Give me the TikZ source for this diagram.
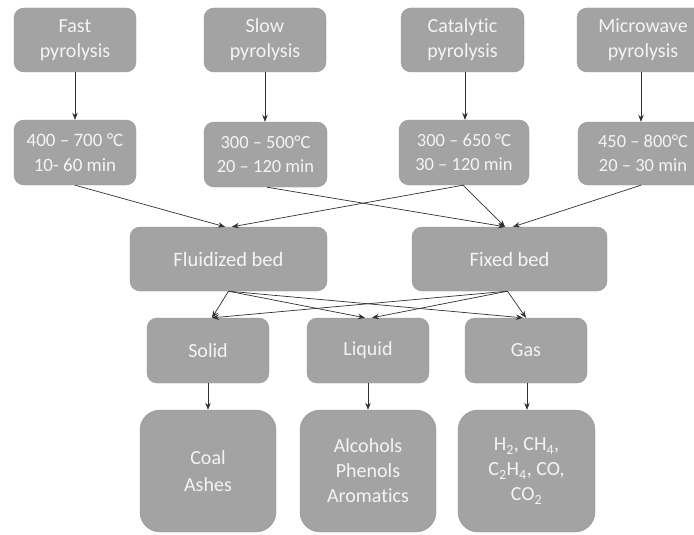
\documentclass[tikz,border=0pt]{standalone}
\usepackage{fontspec}
\setmainfont{Carlito}[Ligatures=NoCommon]
\usetikzlibrary{arrows.meta}
\definecolor{boxgray}{HTML}{A3A3A3}
\definecolor{boxtext}{HTML}{F4F4F4}
\definecolor{linecol}{HTML}{303030}
\tikzset{
  box/.style={fill=boxgray, draw=boxgray!92!black, line width=0.4pt, rounded corners=10pt, inner sep=0pt,
    text=boxtext, align=center, font=\fontsize{20}{25}\selectfont},
  bigbox/.style={box, rounded corners=20pt},
  arr/.style={draw=linecol, line width=0.7pt, -{Stealth[length=7pt,width=5.5pt]}},
}
\begin{document}
\begin{tikzpicture}[x=1pt,y=-1pt]
\useasboundingbox (0,0) rectangle (694,535);
\fill[white] (0,0) rectangle (694,535);
\clip (0,0) rectangle (694,535);
% top row
\node[box, minimum width=122pt, minimum height=64pt] (fast) at (75,40) {Fast\\pyrolysis};
\node[box, minimum width=122pt, minimum height=64pt] (slow) at (265,40) {Slow\\pyrolysis};
\node[box, minimum width=123pt, minimum height=64pt] (cat) at (462.5,40) {Catalytic\\pyrolysis};
\node[box, minimum width=132pt, minimum height=64pt] (micro) at (643,40) {Microwave\\pyrolysis};
% second row
\node[box, minimum width=122pt, minimum height=65pt, font=\fontsize{19}{25}\selectfont] (fastc) at (75,152.5) {400 – 700 °C\\10- 60 min};
\node[box, minimum width=123pt, minimum height=65pt, font=\fontsize{18.5}{24}\selectfont] (slowc) at (265.5,154.5) {300 – 500°C\\20 – 120 min};
\node[box, minimum width=130pt, minimum height=65pt, font=\fontsize{18.5}{24}\selectfont] (catc) at (464,152.5) {300 – 650 °C\\30 – 120 min};
\node[box, minimum width=130pt, minimum height=63pt, font=\fontsize{18.5}{24}\selectfont] (microc) at (643,153.5) {450 – 800°C\\20 – 30 min};
% beds
\node[box, minimum width=197pt, minimum height=64pt, font=\fontsize{20.5}{24}\selectfont] (fluid) at (228.5,259) {Fluidized bed};
\node[box, minimum width=195pt, minimum height=64pt, font=\fontsize{20.5}{24}\selectfont] (fixed) at (509.5,259) {Fixed bed};
% phases
\node[box, minimum width=122pt, minimum height=65pt] (solid) at (208,350.5) {Solid};
\node[box, minimum width=122pt, minimum height=65pt] (liquid) at (368,350.5) {Liquid};
\node[box, minimum width=122pt, minimum height=65pt] (gas) at (526,350.5) {Gas};
% products
\node[bigbox, minimum width=136pt, minimum height=122pt, font=\fontsize{20}{27}\selectfont] (coal) at (208,471) {Coal\\Ashes};
\node[bigbox, minimum width=136pt, minimum height=122pt, font=\fontsize{20}{25}\selectfont] (liqp) at (368,471) {Alcohols\\Phenols\\Aromatics};
\node[bigbox, minimum width=137pt, minimum height=122pt, font=\fontsize{20}{25}\selectfont] (gasp) at (526.5,471) {H\textsubscript{2}, CH\textsubscript{4},\\C\textsubscript{2}H\textsubscript{4}, CO,\\CO\textsubscript{2}};
% arrows top -> conditions
\draw[arr] (fast.south) -- (fastc.north);
\draw[arr] (slow.south) -- (slow.south |- slowc.north);
\draw[arr] ([xshift=2.5pt]cat.south) -- ([xshift=1pt]catc.north);
\draw[arr] ([xshift=-2pt]micro.south) -- ([xshift=-2pt]microc.north);
% conditions -> beds
\draw[arr] (fastc.south) -- ([xshift=-3.5pt]fluid.north);
\draw[arr] ([xshift=-1pt]catc.south) -- ([xshift=3.5pt]fluid.north);
\draw[arr] ([xshift=1.5pt]slowc.south) -- ([xshift=-4.5pt]fixed.north);
\draw[arr] ([xshift=-1pt]catc.south) -- ([xshift=-4.5pt]fixed.north);
\draw[arr] ([xshift=-2pt]microc.south) -- ([xshift=3.5pt]fixed.north);
% beds -> phases
\draw[arr] (fluid.south) -- ([xshift=4pt]solid.north);
\draw[arr] (fluid.south) -- ([xshift=-3pt]liquid.north);
\draw[arr] (fluid.south) -- ([xshift=-3pt]gas.north);
\draw[arr] ([xshift=-2pt]fixed.south) -- ([xshift=4pt]solid.north);
\draw[arr] ([xshift=-2pt]fixed.south) -- ([xshift=4pt]liquid.north);
\draw[arr] ([xshift=-2pt]fixed.south) -- ([xshift=0pt]gas.north);
% phases -> products
\draw[arr] (solid.south) -- (coal.north);
\draw[arr] (liquid.south) -- (liqp.north);
\draw[arr] ([xshift=1pt]gas.south) -- ([xshift=0.5pt]gasp.north);
\end{tikzpicture}
\end{document}
